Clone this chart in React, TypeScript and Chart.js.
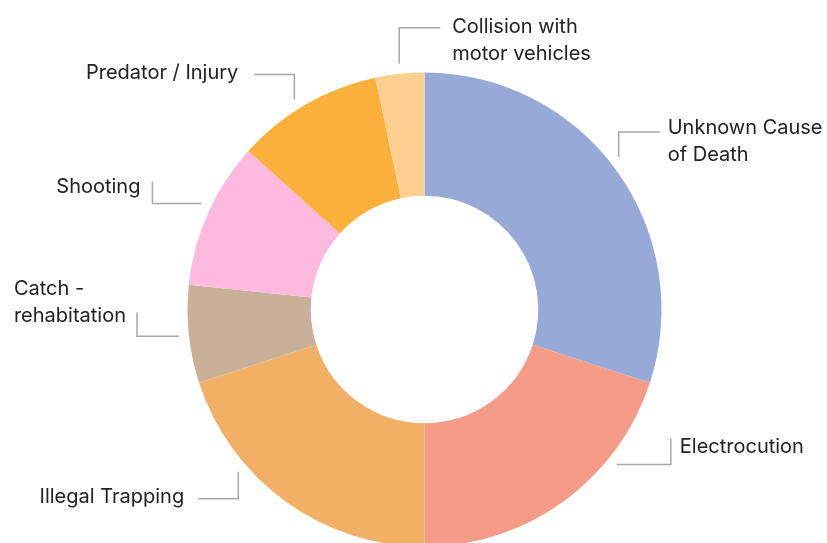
import React, { useEffect, useRef } from "react";
import { Chart, registerables } from "chart.js";

Chart.register(...registerables);

// ---- data ----
const categories = [
  "Unknown Cause of Death",
  "Electrocution",
  "Illegal Trapping",
  "Catch - rehabitation",
  "Shooting",
  "Predator / Injury",
  "Collision with motor vehicles",
];
const labelLines = [
  ["Unknown Cause", "of Death"],
  ["Electrocution"],
  ["Illegal Trapping"],
  ["Catch -", "rehabitation"],
  ["Shooting"],
  ["Predator / Injury"],
  ["Collision with", "motor vehicles"],
];
const deaths = [27, 18, 18, 6, 9, 9, 3];
const sliceColors = [
  "#97a9d7",
  "#f59b87",
  "#f2b067",
  "#c9b199",
  "#fdb9de",
  "#fbb03c",
  "#fecf91",
];

// ---- leader line styling (relative to each slice) ----
type Leader = { frac: number; mode: "vh" | "hv"; dx: number; dy: number; gap: number; base: number };
const leaders: Leader[] = [
  { frac: 0.48, mode: "vh", dx: 41, dy: -25, gap: 8, base: 2 },
  { frac: 0.29, mode: "hv", dx: 54, dy: -26, gap: 9, base: 14 },
  { frac: 0.68, mode: "vh", dx: -40, dy: 27, gap: 14, base: 4 },
  { frac: 0.49, mode: "hv", dx: -42, dy: -24, gap: 11, base: -17 },
  { frac: 0.54, mode: "hv", dx: -49, dy: -22, gap: 12, base: 12 },
  { frac: 0.45, mode: "vh", dx: -40, dy: -25, gap: 16, base: 4 },
  { frac: 0.51, mode: "vh", dx: 41, dy: -36, gap: 12, base: 5 },
];
const FONT = "20px Inter, 'Noto Sans', sans-serif";
const LINE_H = 27;

const leaderPlugin = {
  id: "leaderLabels",
  afterDraw(chart: any) {
    const ctx = chart.ctx;
    const meta = chart.getDatasetMeta(0);
    ctx.save();
    ctx.font = FONT;
    meta.data.forEach((arc: any, i: number) => {
      const L = leaders[i];
      if (!L) return;
      const { x, y, startAngle, endAngle, outerRadius } = arc.getProps(
        ["x", "y", "startAngle", "endAngle", "outerRadius"],
        true
      );
      const a = startAngle + (endAngle - startAngle) * L.frac;
      const r = outerRadius + 10;
      const ax = x + Math.cos(a) * r;
      const ay = y + Math.sin(a) * r;
      const ex = ax + L.dx;
      const ey = ay + L.dy;
      const cx = L.mode === "vh" ? ax : ex;
      const cy = L.mode === "vh" ? ey : ay;
      ctx.strokeStyle = "#a8a8a8";
      ctx.lineWidth = 1.5;
      ctx.beginPath();
      ctx.moveTo(ax, ay);
      ctx.lineTo(cx, cy);
      ctx.lineTo(ex, ey);
      ctx.stroke();

      const lines = labelLines[i];
      const maxW = Math.max(...lines.map((t) => ctx.measureText(t).width));
      const tx = L.dx > 0 ? ex + L.gap : ex - L.gap - maxW;
      ctx.fillStyle = "#222222";
      ctx.textAlign = "left";
      ctx.textBaseline = "alphabetic";
      lines.forEach((t, k) => {
        ctx.fillText(t, tx, ey + L.base + k * LINE_H);
      });
    });
    ctx.restore();
  },
};

export default function App() {
  const ref = useRef<HTMLCanvasElement | null>(null);
  useEffect(() => {
    document.body.style.margin = "0";
    document.body.style.overflow = "hidden";
    const chart = new Chart(ref.current as HTMLCanvasElement, {
      type: "doughnut",
      data: {
        labels: categories,
        datasets: [
          {
            data: deaths,
            backgroundColor: sliceColors,
            borderWidth: 0,
            radius: 237,
            cutout: "48%",
            clip: false,
          } as any,
        ],
      },
      options: {
        animation: false,
        responsive: false,
        devicePixelRatio: 1,
        layout: { padding: { left: 22, right: 0, top: 76, bottom: 0 } },
        plugins: { legend: { display: false }, tooltip: { enabled: false } },
      },
      plugins: [leaderPlugin],
    });
    return () => chart.destroy();
  }, []);
  return (
    <div style={{ position: "fixed", left: 0, top: 0, width: 827, height: 543, background: "#fff" }}>
      <canvas ref={ref} width={827} height={543} />
    </div>
  );
}
